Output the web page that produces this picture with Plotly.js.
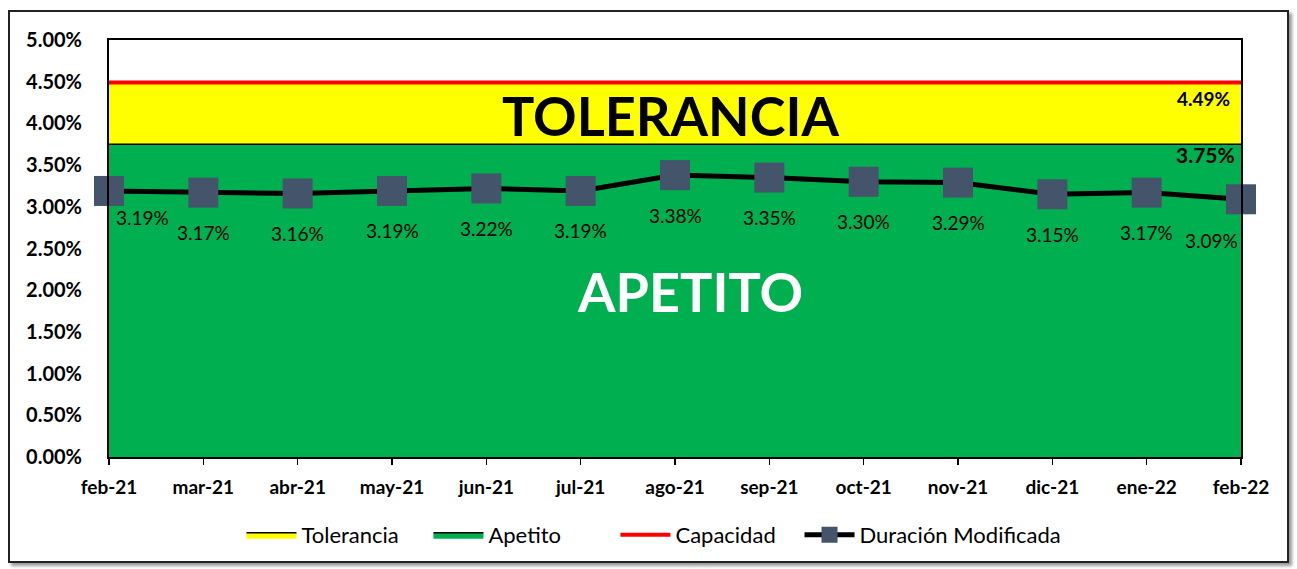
<!DOCTYPE html>
<html><head><meta charset="utf-8">
<script src="https://cdn.plot.ly/plotly-3.0.1.min.js"></script>
<style>
html,body{margin:0;padding:0;background:#fff;}
#wrap{position:relative;width:1297px;height:569px;}
#chart{position:absolute;left:0;top:0;width:1297px;height:569px;}
#frame{position:absolute;left:8px;top:10px;width:1277px;height:549px;border:2px solid #222;box-shadow:3px 3px 3px #9a9a9a;pointer-events:none;}
</style></head>
<body><div id="wrap"><div id="chart"></div><div id="frame"></div></div>
<script>
const months = ['feb-21','mar-21','abr-21','may-21','jun-21','jul-21','ago-21','sep-21','oct-21','nov-21','dic-21','ene-22','feb-22'];
const duracion = [0.0319,0.0317,0.0316,0.0319,0.0322,0.0319,0.0338,0.0335,0.0330,0.0329,0.0315,0.0317,0.0309];
const apetito = [0.0375,0.0375,0.0375,0.0375,0.0375,0.0375,0.0375,0.0375,0.0375,0.0375,0.0375,0.0375,0.0375];
const tolerancia = [0.0449,0.0449,0.0449,0.0449,0.0449,0.0449,0.0449,0.0449,0.0449,0.0449,0.0449,0.0449,0.0449];
const capacidad = [0.0449,0.0449,0.0449,0.0449,0.0449,0.0449,0.0449,0.0449,0.0449,0.0449,0.0449,0.0449,0.0449];
const yTicks = [0,0.005,0.01,0.015,0.02,0.025,0.03,0.035,0.04,0.045,0.05];

const xIdx = months.map((m,i)=>i);
const FONT = 'Lato, "Open Sans", sans-serif';

const traces = [
  {x:xIdx,y:apetito,name:'Apetito',type:'scatter',mode:'lines',fill:'tozeroy',fillcolor:'#00B050',
   line:{color:'#000',width:1.5},legendrank:2,hoverinfo:'skip'},
  {x:xIdx,y:tolerancia,name:'Tolerancia',type:'scatter',mode:'lines',fill:'tonexty',fillcolor:'#FFFF00',
   line:{color:'#000',width:1.5},legendrank:1,hoverinfo:'skip'},
  {x:xIdx,y:capacidad,name:'Capacidad',type:'scatter',mode:'lines',line:{color:'#FF0000',width:4},legendrank:3},
  {x:xIdx,y:duracion,name:'Duración Modificada',type:'scatter',mode:'lines+markers',legend:'legend2',
   line:{color:'#000',width:5},marker:{symbol:'square',size:30,color:'#44546A'},legendrank:4,cliponaxis:false}
];

const annotations = duracion.map((v,i)=>{
  let xs=0, ys=-40;
  if(i===0){xs=33;ys=-27;}
  if(i===months.length-1){xs=-30;ys=-41;}
  return {x:i,y:v,text:(v*100).toFixed(2)+'%',showarrow:false,xshift:xs,yshift:ys,
          font:{family:FONT,size:19,color:'#000'}};
});
annotations.push({x:5.95,y:0.041,text:'<b>TOLERANCIA</b>',showarrow:false,font:{family:FONT,size:54,color:'#000'}});
annotations.push({x:6.16,y:0.0198,text:'<b>APETITO</b>',showarrow:false,font:{family:FONT,size:54,color:'#fff'}});
annotations.push({x:12,y:tolerancia[12],text:'<b>'+(tolerancia[12]*100).toFixed(2)+'%</b>',showarrow:false,xanchor:'right',xshift:-9,yshift:-16,
  font:{family:FONT,size:19,color:'#000'}});
annotations.push({x:12,y:apetito[12],text:'<b>'+(apetito[12]*100).toFixed(2)+'%</b>',showarrow:false,xanchor:'right',xshift:-4,yshift:-10,
  font:{family:FONT,size:21,color:'#000'}});

const legendCommon = {orientation:'h',yanchor:'middle',y:-0.187,xanchor:'left',
  font:{family:FONT,size:22,color:'#000'},traceorder:'normal',itemwidth:50,bgcolor:'rgba(0,0,0,0)'};

const layout = {
  width:1297,height:569,
  margin:{l:109,r:56,t:40,b:112},
  paper_bgcolor:'#fff',plot_bgcolor:'#fff',
  font:{family:FONT,color:'#000'},
  showlegend:true,
  legend:Object.assign({},legendCommon,{x:0.117,entrywidth:122,entrywidthmode:'pixels'}),
  legend2:Object.assign({},legendCommon,{x:0.610}),
  xaxis:{range:[0,12],tickmode:'array',tickvals:xIdx,ticktext:months,showgrid:false,zeroline:false,
         showline:true,mirror:true,linecolor:'#000',linewidth:2,ticks:'outside',ticklen:6,tickcolor:'#000',tickwidth:1.5,
         ticklabelstandoff:6,tickfont:{family:FONT,size:19,color:'#000',weight:'bold'},fixedrange:true},
  yaxis:{range:[0,0.05],tickmode:'array',tickvals:yTicks,tickformat:'.2%',showgrid:false,zeroline:false,
         showline:true,mirror:true,linecolor:'#000',linewidth:2,ticks:'',
         ticklabelstandoff:21,tickfont:{family:FONT,size:20,color:'#000',weight:'bold'},fixedrange:true},
  annotations:annotations
};
Plotly.newPlot('chart',traces,layout,{staticPlot:true});
</script></body></html>
